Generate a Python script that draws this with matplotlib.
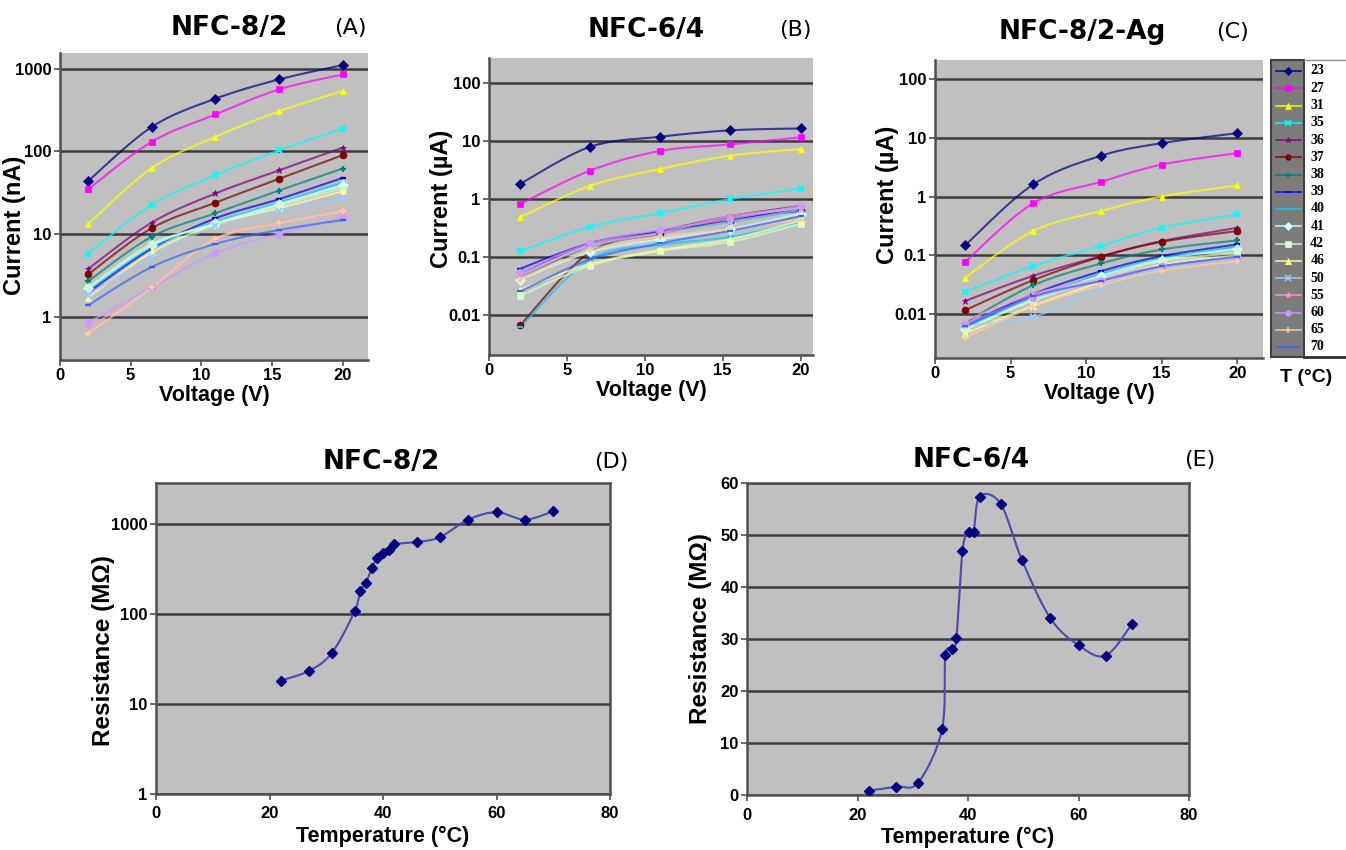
import numpy as np
import matplotlib.pyplot as plt
from matplotlib.patches import Rectangle

plt.rcParams['font.family'] = ['Liberation Sans', 'DejaVu Sans']

W, H = 1346, 850

# temperatures (°C) of the I-V series
temps = [23, 27, 31, 35, 36, 37, 38, 39, 40, 41, 42, 46, 50, 55, 60, 65, 70]

volt_a = [2, 6.5, 11, 15.5, 20]
volt_b = [2, 6.5, 11, 15.5, 20]
volt_c = [2, 6.5, 11, 15, 20]

# NFC-8/2, current in nA, one row per temperature
current_a = [
    [44, 198, 434, 743, 1107],
    [35, 131, 280, 562, 852],
    [13.3, 63, 150, 305, 537],
    [5.8, 22.6, 51.7, 103, 188],
    [3.8, 13.8, 31, 59, 111],
    [3.27, 11.8, 24, 46.6, 90],
    [2.7, 9.3, 17.9, 33.6, 62],
    [1.97, 6.7, 15.5, 26.5, 47.8],
    [2.1, 7.0, 14, 24, 42],
    [2.2, 7.3, 13.5, 23, 39],
    [2.26, 7.6, 13, 22, 36],
    [1.71, 6.0, 13, 20.5, 33],
    [1.85, 5.3, 12.5, 19, 27],
    [0.73, 2.3, 8.5, 13.5, 18],
    [0.85, 2.26, 5.9, 10, 15.8],
    [0.625, 2.26, 8.8, 13.5, 18.8],
    [1.38, 4.0, 7.6, 11.2, 14.8],
]

# NFC-6/4, current in uA
current_b = [
    [1.81, 7.9, 11.8, 15.2, 16.4],
    [0.81, 3.07, 6.7, 8.7, 11.5],
    [0.48, 1.67, 3.28, 5.56, 7.2],
    [0.124, 0.326, 0.566, 0.99, 1.5],
    [0.05, 0.17, 0.28, 0.50, 0.75],
    [0.0065, 0.12, 0.25, 0.42, 0.65],
    [0.045, 0.15, 0.26, 0.40, 0.65],
    [0.062, 0.17, 0.27, 0.45, 0.62],
    [0.006, 0.09, 0.16, 0.22, 0.40],
    [0.04, 0.12, 0.20, 0.30, 0.55],
    [0.021, 0.07, 0.125, 0.18, 0.37],
    [0.027, 0.075, 0.13, 0.20, 0.42],
    [0.05, 0.15, 0.25, 0.40, 0.65],
    [0.045, 0.16, 0.26, 0.50, 0.70],
    [0.055, 0.17, 0.29, 0.45, 0.75],
    [0.04, 0.13, 0.22, 0.30, 0.45],
    [0.025, 0.09, 0.17, 0.28, 0.50],
]

# NFC-8/2-Ag, current in uA
current_c = [
    [0.149, 1.61, 4.96, 8.1, 12],
    [0.078, 0.77, 1.79, 3.5, 5.5],
    [0.042, 0.26, 0.57, 1.0, 1.55],
    [0.024, 0.066, 0.146, 0.295, 0.50],
    [0.0168, 0.045, 0.097, 0.175, 0.295],
    [0.0117, 0.038, 0.095, 0.17, 0.26],
    [0.0072, 0.031, 0.073, 0.126, 0.18],
    [0.0065, 0.022, 0.054, 0.097, 0.154],
    [0.006, 0.019, 0.048, 0.09, 0.14],
    [0.0055, 0.018, 0.045, 0.085, 0.13],
    [0.0055, 0.017, 0.04, 0.08, 0.11],
    [0.0047, 0.014, 0.035, 0.07, 0.10],
    [0.0065, 0.009, 0.028, 0.06, 0.09],
    [0.0078, 0.022, 0.04, 0.065, 0.095],
    [0.0068, 0.019, 0.037, 0.065, 0.092],
    [0.004, 0.0135, 0.031, 0.055, 0.08],
    [0.0062, 0.02, 0.037, 0.065, 0.095],
]

# resistance vs temperature
temp_d = [22, 27, 31, 35, 36, 37, 38, 39, 40, 41, 42, 46, 50, 55, 60, 65, 70]
res_d = [18.2, 23.4, 37, 107, 181, 222, 321, 422, 476, 518, 594, 631, 711, 1117, 1349, 1117, 1383]
temp_e = [22, 27, 31, 35.3, 35.9, 37.1, 37.9, 39, 40.1, 41, 42.1, 45.9, 49.8, 54.9, 60, 64.9, 69.7]
res_e = [0.83, 1.6, 2.4, 12.6, 26.9, 28.0, 30.2, 47.0, 50.6, 50.6, 57.4, 56.0, 45.1, 34.0, 28.8, 26.8, 32.9]

colors = ['#000080', '#ff00ff', '#ffff00', '#00ffff', '#800080', '#800000', '#008080',
          '#0000ff', '#00ccff', '#ccffff', '#ccffcc', '#ffff99', '#99ccff', '#ff99cc',
          '#cc99ff', '#ffcc99', '#3366ff']
markers = ['D', 's', '^', 'x', '*', 'o', '+', '_', '_',
           'D', 's', '^', 'x', '*', 'o', '+', '_']


def smooth(x, y, n=25):
    # Catmull-Rom curve through the points, like Excel's smoothed line
    P = np.column_stack([np.asarray(x, float), np.asarray(y, float)])
    P = np.vstack([P[0], P, P[-1]])
    t = np.linspace(0, 1, n)[:, None]
    out = []
    for i in range(1, len(P) - 2):
        p0, p1, p2, p3 = P[i - 1], P[i], P[i + 1], P[i + 2]
        seg = 0.5 * (2 * p1 + (-p0 + p2) * t + (2 * p0 - 5 * p1 + 4 * p2 - p3) * t ** 2
                     + (-p0 + 3 * p1 - 3 * p2 + p3) * t ** 3)
        out.append(seg if i == 1 else seg[1:])
    out = np.vstack(out)
    return out[:, 0], out[:, 1]


def px_axes(l, t, r, b):
    return fig.add_axes([l / W, 1 - b / H, (r - l) / W, (b - t) / H])


def base_style(ax, all_spines=False):
    ax.set_facecolor('#c0c0c0')
    ax.grid(axis='y', color='#3c3c3c', lw=1.8)
    ax.set_axisbelow(True)
    for s in ['top', 'right', 'left', 'bottom']:
        ax.spines[s].set_color('#505050')
        ax.spines[s].set_linewidth(1.8)
    if not all_spines:
        ax.spines['top'].set_visible(False)
        ax.spines['right'].set_visible(False)
    ax.tick_params(direction='out', length=4, width=1.2, color='#505050', labelsize=12, pad=2)
    for lbl in ax.get_xticklabels() + ax.get_yticklabels():
        lbl.set_fontweight('bold')


def iv_panel(ax, volts, data, xmax, ylim, yticks, ylabels, ylab, labx, laby):
    ax.set_yscale('log')
    for vals, c, m in zip(data, colors, markers):
        sx, sy = smooth(volts, np.log10(vals))
        ax.plot(sx, 10 ** sy, color=c, lw=1.5, alpha=0.7, zorder=3)
        mew = 1.6 if m in ('x', '+', '_') else 0.5
        ax.plot(volts, vals, ls='none', marker=m, color=c, ms=5, mew=mew, zorder=4)
    ax.set_xlim(0, xmax)
    ax.set_ylim(*ylim)
    ax.set_yticks(yticks, labels=ylabels)
    ax.minorticks_off()
    ax.set_xticks([0, 5, 10, 15, 20])
    base_style(ax)
    ax.set_xlabel('Voltage (V)', fontsize=15.5, fontweight='bold', labelpad=1)
    ax.set_ylabel(ylab, fontsize=17, fontweight='bold')
    ax.yaxis.set_label_coords(labx, laby)


fig = plt.figure(figsize=(W / 100, H / 100), dpi=100)

ax_a = px_axes(60, 53, 368, 360)
iv_panel(ax_a, volt_a, current_a, 21.8, (0.3, 1550), [1, 10, 100, 1000],
         ['1', '10', '100', '1000'], 'Current (nA)', -0.11, 0.44)

ax_b = px_axes(489, 58, 813, 355)
iv_panel(ax_b, volt_b, current_b, 20.8, (0.002, 270), [0.01, 0.1, 1, 10, 100],
         ['0.01', '0.1', '1', '10', '100'], 'Current (µA)', -0.112, 0.525)

ax_c = px_axes(935, 60, 1263, 358)
iv_panel(ax_c, volt_c, current_c, 21.7, (0.0018, 210), [0.01, 0.1, 1, 10, 100],
         ['0.01', '0.1', '1', '10', '100'], 'Current (µA)', -0.11, 0.547)

# resistance panels
ax_d = px_axes(156, 483, 610, 794)
ax_d.set_yscale('log')
sx, sy = smooth(temp_d, np.log10(res_d))
ax_d.plot(sx, 10 ** sy, color='#4b4bb0', lw=1.5, zorder=3)
ax_d.plot(temp_d, res_d, ls='none', marker='D', color='#000080', ms=5, zorder=4)
ax_d.set_xlim(0, 80)
ax_d.set_ylim(1, 2850)
ax_d.set_yticks([1, 10, 100, 1000], labels=['1', '10', '100', '1000'])
ax_d.minorticks_off()
ax_d.set_xticks([0, 20, 40, 60, 80])
base_style(ax_d, all_spines=True)
ax_d.tick_params(axis='x', pad=5)
ax_d.set_xlabel('Temperature (°C)', fontsize=15.5, fontweight='bold', labelpad=3)
ax_d.set_ylabel('Resistance (MΩ)', fontsize=17.5, fontweight='bold')
ax_d.yaxis.set_label_coords(-0.09, 0.46)

ax_e = px_axes(747, 483, 1189, 795)
sx, sy = smooth(temp_e, res_e)
ax_e.plot(sx, sy, color='#4b4bb0', lw=1.5, zorder=3)
ax_e.plot(temp_e, res_e, ls='none', marker='D', color='#000080', ms=5, zorder=4)
ax_e.set_xlim(0, 80)
ax_e.set_ylim(0, 60)
ax_e.set_yticks([0, 10, 20, 30, 40, 50, 60])
ax_e.set_xticks([0, 20, 40, 60, 80])
base_style(ax_e, all_spines=True)
ax_e.tick_params(axis='x', pad=5)
ax_e.set_xlabel('Temperature (°C)', fontsize=15.5, fontweight='bold', labelpad=3)
ax_e.set_ylabel('Resistance (MΩ)', fontsize=17.5, fontweight='bold')
ax_e.yaxis.set_label_coords(-0.08, 0.535)

# titles
tfont = dict(ha='center', va='center', fontsize=19, fontweight='bold', family='DejaVu Sans')
lfont = dict(ha='center', va='center', fontsize=16, family='DejaVu Sans')
for name, x, y in [('NFC-8/2', 229, 28), ('NFC-6/4', 646, 30), ('NFC-8/2-Ag', 1082, 32),
                   ('NFC-8/2', 381, 462), ('NFC-6/4', 971, 460)]:
    fig.text(x / W, 1 - y / H, name, **tfont)
for name, x, y in [('(A)', 350, 28), ('(B)', 795, 30), ('(C)', 1233, 32),
                   ('(D)', 611, 462), ('(E)', 1200, 460)]:
    fig.text(x / W, 1 - y / H, name, **lfont)

# legend of temperatures
ax_l = px_axes(1266, 56, 1346, 362)
ax_l.set_xlim(0, 1)
ax_l.set_ylim(362, 56)
ax_l.axis('off')
ax_l.add_patch(Rectangle((0.06, 60), 0.42, 297, facecolor='#7c7c7c', edgecolor='#404040', lw=1.5))
ax_l.plot([0.48, 1.0], [357, 357], color='#303030', lw=2)
ax_l.plot([0.48, 1.0], [60, 60], color='#909090', lw=1)
step = (347 - 71) / (len(temps) - 1)
for i, (t, c, m) in enumerate(zip(temps, colors, markers)):
    yy = 71 + i * step
    ax_l.plot([0.12, 0.44], [yy, yy], color=c, lw=1.3, alpha=0.8)
    ax_l.plot([0.28], [yy], marker=m, color=c, ms=4, mew=1.2 if m in ('x', '+', '_') else 0.5)
    ax_l.text(0.64, yy, str(t), ha='center', va='center', fontsize=10,
              family='Liberation Serif', fontweight='bold')
fig.text(1306 / W, 1 - 377 / H, 'T (°C)', ha='center', va='center', fontsize=14, fontweight='bold')

fig.savefig('out.png', dpi=100)
